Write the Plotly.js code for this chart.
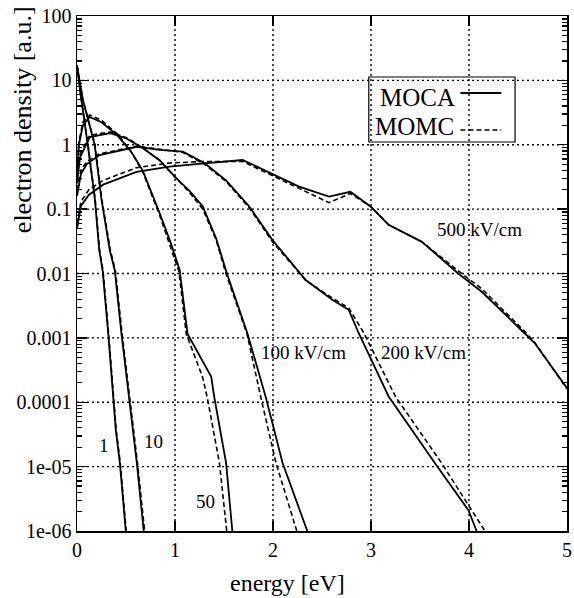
<!DOCTYPE html>
<html>
<head>
<meta charset="utf-8">
<script src="https://cdn.plot.ly/plotly-3.0.1.min.js"></script>
<style>
html,body{margin:0;padding:0;background:#fff;}
#chart{width:574px;height:598px;}
</style>
</head>
<body>
<div id="chart"></div>
<script>
// ---- data (energy in eV, electron density in a.u.) ----
const x1_moca = [0, 0.04, 0.11, 0.183, 0.227, 0.262, 0.319, 0.369, 0.396, 0.437, 0.498];
const y1_moca = [17, 5.6, 1.0, 0.14, 0.023, 0.011, 1.15e-3, 1.2e-4, 3.7e-5, 1.15e-5, 1e-6];
const x1_momc = [0, 0.04, 0.112, 0.186, 0.23, 0.266, 0.323, 0.373, 0.4, 0.441, 0.502];
const y1_momc = [17, 5.6, 1.0, 0.14, 0.023, 0.011, 1.15e-3, 1.2e-4, 3.7e-5, 1.15e-5, 1e-6];

const x10_moca = [0, 0.06, 0.18, 0.25, 0.335, 0.386, 0.454, 0.532, 0.61, 0.681];
const y10_moca = [17, 5, 1.0, 0.14, 0.023, 0.011, 1.15e-3, 1.2e-4, 1.15e-5, 1e-6];
const x10_momc = [0, 0.06, 0.184, 0.254, 0.34, 0.392, 0.46, 0.538, 0.617, 0.69];
const y10_momc = [17, 5, 1.0, 0.14, 0.023, 0.011, 1.15e-3, 1.2e-4, 1.15e-5, 1e-6];

const x50_moca = [0, 0.02, 0.06, 0.13, 0.25, 0.41, 0.55, 0.67, 0.843, 0.95, 1.047, 1.128, 1.369, 1.402, 1.521, 1.585];
const y50_moca = [0.32, 1.0, 2.0, 2.7, 2.24, 1.41, 0.79, 0.4, 0.087, 0.032, 0.0115, 1.15e-3, 2.5e-4, 1.17e-4, 1.15e-5, 1e-6];
const x50_momc = [0, 0.02, 0.06, 0.13, 0.25, 0.41, 0.55, 0.67, 0.84, 0.95, 1.04, 1.115, 1.28, 1.33, 1.453, 1.528];
const y50_momc = [0.4, 1.12, 2.24, 2.9, 2.4, 1.48, 0.79, 0.38, 0.083, 0.028, 0.0107, 1.15e-3, 2.5e-4, 1.17e-4, 1.15e-5, 1e-6];

const x100_moca = [0, 0.03, 0.13, 0.34, 0.5, 0.67, 0.843, 1.0, 1.15, 1.284, 1.42, 1.53, 1.741, 1.928, 2.097, 2.35];
const y100_moca = [0.25, 0.63, 1.32, 1.51, 1.26, 0.89, 0.575, 0.316, 0.19, 0.11, 0.035, 0.01, 1.15e-3, 1.17e-4, 1.15e-5, 1e-6];
const x100_momc = [0, 0.03, 0.13, 0.34, 0.5, 0.67, 0.843, 1.0, 1.15, 1.284, 1.42, 1.525, 1.735, 1.877, 2.03, 2.243];
const y100_momc = [0.3, 0.7, 1.4, 1.58, 1.3, 0.9, 0.57, 0.31, 0.18, 0.1, 0.033, 0.0095, 1.15e-3, 1.17e-4, 1.15e-5, 1e-6];

const x200_moca = [0, 0.04, 0.1, 0.23, 0.61, 0.843, 1.08, 1.3, 1.521, 1.758, 1.995, 2.334, 2.605, 2.774, 2.876, 3.18, 3.655, 3.994, 4.078];
const y200_moca = [0.16, 0.35, 0.5, 0.69, 0.93, 0.83, 0.78, 0.52, 0.28, 0.11, 0.033, 0.0079, 0.0039, 0.0027, 1.17e-3, 1.23e-4, 1.12e-5, 2.1e-6, 1e-6];
const x200_momc = [0, 0.04, 0.1, 0.23, 0.61, 0.843, 1.08, 1.3, 1.521, 1.758, 1.995, 2.334, 2.6, 2.774, 2.93, 3.249, 3.723, 4.163];
const y200_momc = [0.2, 0.4, 0.55, 0.72, 0.95, 0.85, 0.76, 0.5, 0.27, 0.105, 0.031, 0.0078, 0.0042, 0.0029, 1.17e-3, 1.23e-4, 1.12e-5, 1e-6];

const x500_moca = [0, 0.04, 0.12, 0.267, 0.607, 0.945, 1.3, 1.69, 2.266, 2.571, 2.79, 2.995, 3.18, 3.52, 3.89, 4.13, 4.57, 4.67, 5.0];
const y500_moca = [0.05, 0.112, 0.166, 0.24, 0.38, 0.457, 0.513, 0.58, 0.224, 0.156, 0.186, 0.11, 0.057, 0.031, 0.01, 0.0052, 1.17e-3, 8.3e-4, 1.66e-4];
const x500_momc = [0, 0.04, 0.12, 0.267, 0.607, 0.945, 1.3, 1.69, 2.266, 2.571, 2.79, 2.995, 3.18, 3.52, 3.89, 4.13, 4.57, 4.67, 5.0];
const y500_momc = [0.06, 0.13, 0.2, 0.28, 0.44, 0.52, 0.55, 0.55, 0.21, 0.126, 0.175, 0.11, 0.057, 0.031, 0.011, 0.0058, 1.25e-3, 8.5e-4, 1.6e-4];

const yTickVals = [1e-6, 1e-5, 1e-4, 1e-3, 1e-2, 0.1, 1, 10, 100];
const yTickText = ['1e-06', '1e-05', '0.0001', '0.001', '0.01', '0.1', '1', '10', '100'];
const xTickVals = [0, 1, 2, 3, 4, 5];
const minorDigits = [2, 3, 4, 5, 6, 7, 8, 9];

const curveLabels = ['1', '10', '50', '100 kV/cm', '200 kV/cm', '500 kV/cm'];
const labelX = [0.274, 0.777, 1.31, 2.31, 3.537, 4.105];
const labelY = [2.1e-5, 2.5e-5, 2.9e-6, 5.9e-4, 6.0e-4, 0.048];

const legendNames = ['MOCA', 'MOMC'];

// ---- styles ----
const FONT = 'Liberation Serif';
const solid = {color: '#000', width: 1.8, dash: 'solid'};
const dashed = {color: '#000', width: 1.6, dash: '5px,3px'};
const gridLine = {color: '#000', width: 1.4, dash: '2px,3px'};
const xMin = xTickVals[0], xMax = xTickVals[xTickVals.length - 1];
const yMin = yTickVals[0], yMax = yTickVals[yTickVals.length - 1];

const traces = [];
// dotted grid lines at the major ticks, drawn first so the curves lie over them
yTickVals.slice(1, -1).forEach(v => traces.push({x: [xMin, xMax], y: [v, v], type: 'scatter', mode: 'lines', line: gridLine, showlegend: false, hoverinfo: 'skip'}));
xTickVals.slice(1, -1).forEach(v => traces.push({x: [v, v], y: [yMin, yMax], type: 'scatter', mode: 'lines', line: gridLine, showlegend: false, hoverinfo: 'skip'}));

const pairs = [
  [x1_moca, y1_moca, x1_momc, y1_momc],
  [x10_moca, y10_moca, x10_momc, y10_momc],
  [x50_moca, y50_moca, x50_momc, y50_momc],
  [x100_moca, y100_moca, x100_momc, y100_momc],
  [x200_moca, y200_moca, x200_momc, y200_momc],
  [x500_moca, y500_moca, x500_momc, y500_momc]
];
pairs.forEach(p => {
  traces.push({x: p[2], y: p[3], type: 'scatter', mode: 'lines', line: dashed, showlegend: false, hoverinfo: 'skip'});
  traces.push({x: p[0], y: p[1], type: 'scatter', mode: 'lines', line: solid, showlegend: false, hoverinfo: 'skip'});
});

// minor log ticks built from the decade tick values
const minorVals = [];
yTickVals.slice(0, -1).forEach(d => minorDigits.forEach(m => minorVals.push(d * m)));

// ---- layout ----
const annotations = curveLabels.map((t, i) => ({
  x: labelX[i], y: Math.log10(labelY[i]), xref: 'x', yref: 'y', text: t, showarrow: false,
  font: {family: FONT, size: 19, color: '#000'}, xanchor: 'center', yanchor: 'middle'
}));
annotations.push({xref: 'paper', yref: 'paper', x: -0.112, y: 0.798, text: 'electron density [a.u.]',
  textangle: -90, showarrow: false, font: {family: FONT, size: 26, color: '#000'}, xanchor: 'center', yanchor: 'middle'});
annotations.push({xref: 'paper', yref: 'paper', x: 0.43, y: -0.1, text: 'energy [eV]',
  showarrow: false, font: {family: FONT, size: 24, color: '#000'}, xanchor: 'center', yanchor: 'middle'});
annotations.push({xref: 'paper', yref: 'paper', x: 0.776, y: 0.8427, text: legendNames[0],
  showarrow: false, font: {family: FONT, size: 25, color: '#000'}, xanchor: 'right', yanchor: 'middle'});
annotations.push({xref: 'paper', yref: 'paper', x: 0.774, y: 0.7864, text: legendNames[1],
  showarrow: false, font: {family: FONT, size: 25, color: '#000'}, xanchor: 'right', yanchor: 'middle'});

const shapes = [
  {type: 'rect', xref: 'paper', yref: 'paper', x0: 0.5955, x1: 0.894, y0: 0.7553, y1: 0.8816, line: {color: '#000', width: 1.2}},
  {type: 'line', xref: 'paper', yref: 'paper', x0: 0.7825, x1: 0.866, y0: 0.8505, y1: 0.8505, line: solid},
  {type: 'line', xref: 'paper', yref: 'paper', x0: 0.7825, x1: 0.866, y0: 0.7786, y1: 0.7786, line: dashed}
];

const layout = {
  width: 574, height: 598,
  margin: {l: 77, r: 7, t: 16, b: 67, pad: 0},
  paper_bgcolor: '#fff', plot_bgcolor: '#fff',
  showlegend: false,
  font: {family: FONT, color: '#000'},
  xaxis: {
    range: [0, 5], tickvals: xTickVals, ticktext: xTickVals.map(String),
    ticks: 'inside', ticklen: 10, tickwidth: 1.4, tickcolor: '#000',
    showline: true, linecolor: '#000', linewidth: 1.5, mirror: 'ticks',
    showgrid: false, zeroline: false,
    tickfont: {family: FONT, size: 20, color: '#000'}
  },
  yaxis: {
    type: 'log', range: [-6, 2], tickvals: yTickVals, ticktext: yTickText,
    ticks: 'inside', ticklen: 10, tickwidth: 1.4, tickcolor: '#000',
    minor: {ticks: 'inside', ticklen: 5, tickwidth: 1.2, tickcolor: '#000', tickvals: minorVals, showgrid: false},
    showline: true, linecolor: '#000', linewidth: 1.5, mirror: 'ticks',
    showgrid: false, zeroline: false,
    tickfont: {family: FONT, size: 20, color: '#000'}
  },
  annotations: annotations,
  shapes: shapes
};

Plotly.newPlot('chart', traces, layout, {staticPlot: true, displayModeBar: false});
</script>
</body>
</html>
